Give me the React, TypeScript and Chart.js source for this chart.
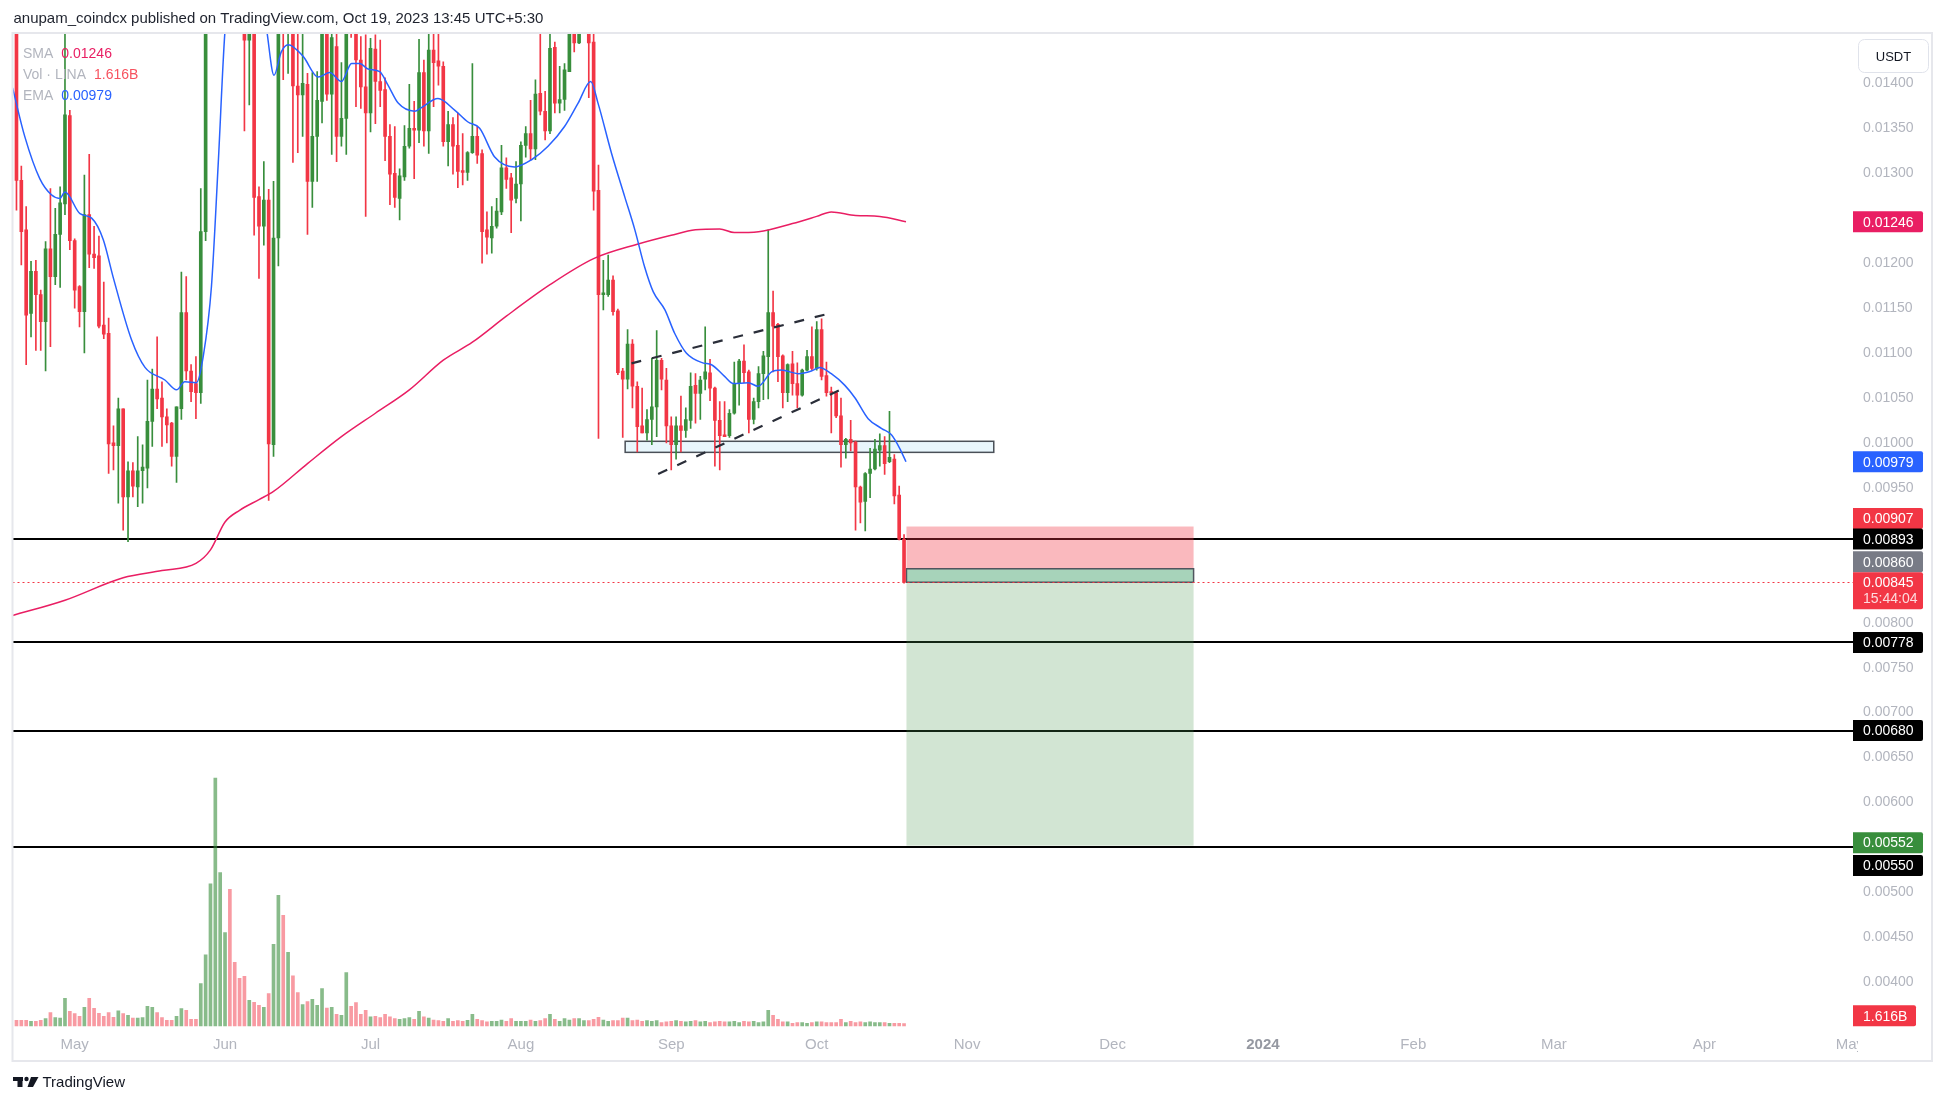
import React, { useEffect, useRef } from 'react';
import { Chart, registerables } from 'chart.js';
Chart.register(...registerables);

// ---------- data ----------
// daily candles [open, high, low, close], Apr 19 2023 -> Oct 19 2023
const ohlc: [number, number, number, number][] = [
  [0.01480, 0.01500, 0.01259, 0.01292], [0.01292, 0.01308, 0.01198, 0.01235], [0.01237, 0.01263, 0.01087, 0.01142],
  [0.01144, 0.01202, 0.01118, 0.01191], [0.01191, 0.01203, 0.01103, 0.01165], [0.01165, 0.01170, 0.01103, 0.01135],
  [0.01135, 0.01224, 0.01080, 0.01216], [0.01216, 0.01283, 0.01107, 0.01185], [0.01185, 0.01261, 0.01176, 0.01232],
  [0.01232, 0.01285, 0.01173, 0.01267], [0.01266, 0.01480, 0.01254, 0.01365], [0.01364, 0.01370, 0.01215, 0.01225],
  [0.01225, 0.01227, 0.01150, 0.01170], [0.01174, 0.01175, 0.01129, 0.01146], [0.01146, 0.01298, 0.01100, 0.01254],
  [0.01254, 0.01321, 0.01195, 0.01210], [0.01210, 0.01241, 0.01194, 0.01206], [0.01208, 0.01230, 0.01128, 0.01130],
  [0.01131, 0.01179, 0.01116, 0.01121], [0.01122, 0.01139, 0.00966, 0.00999], [0.01000, 0.01019, 0.00970, 0.00997],
  [0.00997, 0.01050, 0.00933, 0.01038], [0.01038, 0.01038, 0.00903, 0.00940], [0.00940, 0.00979, 0.00890, 0.00969],
  [0.00969, 0.00978, 0.00940, 0.00952], [0.00951, 0.01007, 0.00929, 0.00969], [0.00969, 0.00998, 0.00933, 0.00973],
  [0.00972, 0.01070, 0.00950, 0.01024], [0.01024, 0.01082, 0.00996, 0.01060], [0.01060, 0.01118, 0.01038, 0.01049],
  [0.01050, 0.01068, 0.00996, 0.01029], [0.01029, 0.01038, 0.01000, 0.01020], [0.01022, 0.01023, 0.00974, 0.00985],
  [0.00985, 0.01040, 0.00956, 0.01040], [0.01038, 0.01190, 0.01026, 0.01145], [0.01145, 0.01185, 0.01070, 0.01080],
  [0.01080, 0.01087, 0.01046, 0.01057], [0.01066, 0.01096, 0.01027, 0.01056], [0.01056, 0.01283, 0.01044, 0.01235],
  [0.01235, 0.01560, 0.01225, 0.01520], [0.01520, 0.01700, 0.01500, 0.01650], [0.01650, 0.01900, 0.01600, 0.01780],
  [0.01780, 0.01950, 0.01700, 0.01850], [0.01850, 0.01950, 0.01720, 0.01880], [0.01880, 0.01900, 0.01650, 0.01700],
  [0.01700, 0.01740, 0.01560, 0.01600], [0.01600, 0.01640, 0.01480, 0.01500], [0.01500, 0.01530, 0.01347, 0.01448],
  [0.01448, 0.01520, 0.01376, 0.01490], [0.01490, 0.01520, 0.01231, 0.01273], [0.01274, 0.01285, 0.01183, 0.01241],
  [0.01241, 0.01313, 0.01220, 0.01270], [0.01270, 0.01282, 0.00936, 0.00999], [0.00998, 0.01291, 0.00985, 0.01228],
  [0.01228, 0.01560, 0.01197, 0.01520], [0.01560, 0.01620, 0.01404, 0.01480], [0.01480, 0.01600, 0.01411, 0.01540],
  [0.01540, 0.01570, 0.01312, 0.01397], [0.01397, 0.01480, 0.01323, 0.01387], [0.01387, 0.01470, 0.01341, 0.01400],
  [0.01399, 0.01411, 0.01232, 0.01291], [0.01291, 0.01412, 0.01262, 0.01341], [0.01341, 0.01413, 0.01291, 0.01381],
  [0.01380, 0.01530, 0.01356, 0.01490], [0.01490, 0.01510, 0.01381, 0.01388], [0.01388, 0.01490, 0.01321, 0.01451],
  [0.01441, 0.01480, 0.01313, 0.01341], [0.01341, 0.01423, 0.01330, 0.01361], [0.01361, 0.01560, 0.01321, 0.01530],
  [0.01540, 0.01580, 0.01451, 0.01480], [0.01480, 0.01510, 0.01374, 0.01426], [0.01426, 0.01452, 0.01372, 0.01396],
  [0.01396, 0.01454, 0.01252, 0.01367], [0.01367, 0.01450, 0.01346, 0.01439], [0.01438, 0.01454, 0.01355, 0.01402],
  [0.01402, 0.01448, 0.01374, 0.01392], [0.01393, 0.01406, 0.01314, 0.01341], [0.01341, 0.01354, 0.01265, 0.01299],
  [0.01300, 0.01352, 0.01262, 0.01273], [0.01272, 0.01305, 0.01248, 0.01297], [0.01296, 0.01353, 0.01292, 0.01330],
  [0.01330, 0.01399, 0.01328, 0.01350], [0.01350, 0.01380, 0.01294, 0.01348], [0.01348, 0.01449, 0.01334, 0.01412],
  [0.01412, 0.01426, 0.01330, 0.01347], [0.01347, 0.01470, 0.01322, 0.01437], [0.01437, 0.01460, 0.01374, 0.01423],
  [0.01425, 0.01460, 0.01398, 0.01419], [0.01419, 0.01424, 0.01330, 0.01335], [0.01335, 0.01369, 0.01308, 0.01354],
  [0.01354, 0.01362, 0.01299, 0.01330], [0.01331, 0.01367, 0.01284, 0.01302], [0.01303, 0.01344, 0.01287, 0.01301],
  [0.01301, 0.01324, 0.01292, 0.01323], [0.01323, 0.01422, 0.01322, 0.01341], [0.01341, 0.01352, 0.01311, 0.01320],
  [0.01322, 0.01326, 0.01200, 0.01235], [0.01237, 0.01257, 0.01210, 0.01229], [0.01228, 0.01263, 0.01211, 0.01241],
  [0.01241, 0.01272, 0.01239, 0.01258], [0.01257, 0.01331, 0.01254, 0.01306], [0.01306, 0.01317, 0.01283, 0.01293],
  [0.01295, 0.01300, 0.01234, 0.01270], [0.01272, 0.01313, 0.01267, 0.01288], [0.01288, 0.01335, 0.01247, 0.01331],
  [0.01331, 0.01352, 0.01318, 0.01344], [0.01344, 0.01381, 0.01315, 0.01327], [0.01327, 0.01404, 0.01315, 0.01388],
  [0.01389, 0.01460, 0.01365, 0.01369], [0.01369, 0.01391, 0.01337, 0.01347], [0.01347, 0.01460, 0.01344, 0.01439],
  [0.01440, 0.01446, 0.01367, 0.01378], [0.01378, 0.01419, 0.01367, 0.01382], [0.01382, 0.01422, 0.01370, 0.01415],
  [0.01413, 0.01500, 0.01413, 0.01470], [0.01470, 0.01500, 0.01435, 0.01445], [0.01445, 0.01490, 0.01444, 0.01470],
  [0.01470, 0.01520, 0.01462, 0.01500], [0.01500, 0.01520, 0.01384, 0.01445], [0.01446, 0.01465, 0.01259, 0.01280],
  [0.01281, 0.01309, 0.01005, 0.01165], [0.01165, 0.01203, 0.01148, 0.01167], [0.01165, 0.01209, 0.01163, 0.01181],
  [0.01181, 0.01186, 0.01142, 0.01146], [0.01147, 0.01149, 0.01076, 0.01078], [0.01080, 0.01083, 0.01006, 0.01071],
  [0.01071, 0.01126, 0.01060, 0.01110], [0.01110, 0.01115, 0.01039, 0.01063], [0.01063, 0.01068, 0.00990, 0.01018],
  [0.01019, 0.01061, 0.01011, 0.01011], [0.01011, 0.01037, 0.01003, 0.01026], [0.01026, 0.01094, 0.00998, 0.01040],
  [0.01040, 0.01125, 0.01007, 0.01092], [0.01092, 0.01094, 0.01059, 0.01071], [0.01070, 0.01083, 0.01000, 0.01019],
  [0.01019, 0.01029, 0.00970, 0.00998], [0.00998, 0.01029, 0.00982, 0.01019], [0.01019, 0.01052, 0.00990, 0.01014],
  [0.01014, 0.01039, 0.01006, 0.01026], [0.01025, 0.01078, 0.01016, 0.01063], [0.01064, 0.01077, 0.01022, 0.01055],
  [0.01055, 0.01074, 0.01026, 0.01070], [0.01071, 0.01129, 0.01059, 0.01079], [0.01078, 0.01093, 0.01047, 0.01061],
  [0.01061, 0.01062, 0.00974, 0.01025], [0.01025, 0.01046, 0.00970, 0.01008], [0.01009, 0.01046, 0.01007, 0.01007],
  [0.01008, 0.01037, 0.01006, 0.01033], [0.01033, 0.01090, 0.01032, 0.01066], [0.01066, 0.01093, 0.01042, 0.01091],
  [0.01091, 0.01109, 0.01067, 0.01078], [0.01079, 0.01081, 0.01011, 0.01026], [0.01026, 0.01050, 0.01021, 0.01046],
  [0.01046, 0.01085, 0.01039, 0.01077], [0.01077, 0.01102, 0.01048, 0.01097], [0.01096, 0.01237, 0.01049, 0.01145],
  [0.01145, 0.01169, 0.01079, 0.01130], [0.01132, 0.01133, 0.01068, 0.01096], [0.01097, 0.01098, 0.01039, 0.01056],
  [0.01056, 0.01088, 0.01046, 0.01087], [0.01088, 0.01102, 0.01053, 0.01066], [0.01066, 0.01089, 0.01039, 0.01053],
  [0.01053, 0.01082, 0.01052, 0.01081], [0.01081, 0.01103, 0.01080, 0.01096], [0.01096, 0.01129, 0.01081, 0.01083],
  [0.01083, 0.01135, 0.01081, 0.01126], [0.01126, 0.01138, 0.01070, 0.01074], [0.01075, 0.01090, 0.01052, 0.01056],
  [0.01057, 0.01062, 0.01011, 0.01056], [0.01056, 0.01057, 0.01028, 0.01030], [0.01030, 0.01050, 0.00973, 0.00998],
  [0.00998, 0.01005, 0.00983, 0.01004], [0.01004, 0.01025, 0.00991, 0.01000], [0.01001, 0.01002, 0.00903, 0.00951],
  [0.00951, 0.00952, 0.00911, 0.00934], [0.00935, 0.00967, 0.00902, 0.00966], [0.00966, 0.00994, 0.00939, 0.00971],
  [0.00971, 0.01004, 0.00970, 0.00993], [0.00992, 0.01010, 0.00974, 0.00997], [0.00997, 0.01007, 0.00965, 0.00977],
  [0.00979, 0.01035, 0.00978, 0.00984], [0.00982, 0.00987, 0.00932, 0.00941], [0.00942, 0.00952, 0.00892, 0.00893],
  [0.00893, 0.00898, 0.00844, 0.00845],
];

// daily volume, billions
const volumes = [
  3.9, 3.9, 3.9, 3.2, 3.2, 3.9, 5.1, 9.2, 5.8, 5.5,
  19.1, 10.1, 8.5, 6.7, 12.9, 19.1, 12.2, 8.7, 6.7, 9.2,
  6.0, 10.4, 8.5, 7.4, 5.5, 5.5, 5.8, 13.6, 12.9, 9.2,
  5.8, 3.9, 3.9, 6.7, 12.0, 10.8, 4.6, 4.6, 29.2, 49.2,
  98.2, 171.1, 105.8, 64.4, 94.3, 43.9, 32.9, 34.3, 17.7, 16.3,
  14.3, 12.9, 22.3, 56.4, 90.2, 76.4, 50.8, 34.7, 23.0, 14.7,
  16.8, 18.4, 14.3, 25.8, 12.4, 12.9, 8.1, 7.4, 36.8, 13.6,
  16.1, 8.1, 10.8, 6.4, 6.7, 5.8, 8.1, 6.4, 5.1, 4.6,
  5.1, 5.8, 4.6, 10.1, 6.4, 5.5, 4.1, 3.7, 3.2, 5.1,
  3.2, 3.7, 3.2, 3.9, 8.1, 4.6, 3.7, 2.8, 3.2, 3.2,
  4.1, 3.2, 5.1, 3.2, 3.2, 3.2, 4.1, 3.2, 3.7, 5.1,
  8.1, 4.6, 3.2, 5.1, 4.1, 5.1, 5.1, 3.7, 3.7, 4.6,
  6.0, 4.1, 3.2, 3.7, 3.7, 5.5, 5.5, 3.7, 4.1, 3.2,
  3.7, 3.2, 3.7, 2.3, 2.8, 3.2, 3.7, 3.2, 2.8, 3.2,
  3.7, 2.8, 3.2, 2.3, 2.8, 3.2, 2.8, 2.8, 3.2, 2.3,
  3.2, 2.8, 3.2, 2.3, 2.8, 10.8, 7.4, 4.6, 2.8, 2.8,
  1.8, 2.3, 2.3, 1.8, 2.3, 2.8, 2.8, 2.3, 2.3, 2.3,
  4.6, 2.3, 3.2, 2.3, 2.8, 2.3, 2.8, 2.3, 2.3, 2.3,
  1.8, 1.8, 1.8, 1.616,
];

// EMA: [day index, value]
const emaPoints: [number, number][] = [
  [-0.8, 0.01395], [1.7, 0.01341], [4.8, 0.01294], [7.2, 0.01276], [8.9, 0.01272], [10.0, 0.01279],
  [13.1, 0.01255], [15.5, 0.01250], [17.9, 0.01226], [19.9, 0.01185], [23.7, 0.01115], [26.5, 0.01084],
  [30.6, 0.01070], [33.0, 0.01059], [34.7, 0.01068], [37.1, 0.01067], [38.5, 0.01096], [40.2, 0.01174],
  [41.6, 0.01311], [43.0, 0.01459], [45.0, 0.01540], [48.0, 0.01560], [50.5, 0.01500], [51.6, 0.01459],
  [53.1, 0.01409], [54.6, 0.01435], [56.0, 0.01443], [59.1, 0.01430], [62.2, 0.01407], [64.6, 0.01412],
  [67.0, 0.01402], [69.1, 0.01422], [70.8, 0.01422], [72.5, 0.01416], [74.9, 0.01413], [76.6, 0.01398],
  [78.7, 0.01378], [82.1, 0.01369], [83.5, 0.01373], [86.9, 0.01383], [90.4, 0.01370], [93.1, 0.01357],
  [95.5, 0.01350], [98.6, 0.01318], [102.7, 0.01307], [106.2, 0.01315], [109.6, 0.01330], [113.0, 0.01352],
  [115.8, 0.01378], [118.4, 0.01402], [119.9, 0.01378], [122.7, 0.01322], [125.4, 0.01274], [127.5, 0.01237],
  [129.5, 0.01196], [131.3, 0.01168], [133.7, 0.01148], [135.7, 0.01122], [138.1, 0.01100], [141.5, 0.01089],
  [143.3, 0.01087], [146.0, 0.01074], [147.8, 0.01066], [150.9, 0.01067], [152.9, 0.01063], [155.7, 0.01079],
  [157.7, 0.01081], [161.2, 0.01077], [163.9, 0.01080], [165.6, 0.01084], [168.0, 0.01077], [170.8, 0.01064],
  [172.9, 0.01050], [175.6, 0.01027], [178.4, 0.01016], [180.4, 0.01009], [182.1, 0.00994], [183.4, 0.00979],
];

// SMA: [day index, value]
const smaPoints: [number, number][] = [
  [-0.8, 0.00808], [10, 0.00825], [22, 0.00850], [30, 0.00858], [37, 0.00866], [40, 0.00881],
  [43, 0.00912], [46, 0.00925], [50, 0.00937], [53, 0.00946], [60, 0.00977], [67, 0.01007],
  [74, 0.01033], [81, 0.01059], [88, 0.01092], [94, 0.01112], [101, 0.01141], [110, 0.01176],
  [119, 0.01205], [128, 0.01221], [135, 0.01231], [140, 0.01237], [145, 0.01238], [148, 0.01234],
  [153, 0.01235], [160, 0.01244], [165, 0.01252], [168, 0.01257], [173, 0.01253], [178, 0.01252],
  [183.4, 0.01246],
];

const levels = [0.00893, 0.00778, 0.00680, 0.00550];
const yTicks = [0.014, 0.0135, 0.013, 0.012, 0.0115, 0.011, 0.0105, 0.010, 0.0095, 0.008, 0.0075, 0.007, 0.0065, 0.006, 0.005, 0.0045, 0.004];
const monthTicks = [12, 43, 73, 104, 135, 165, 196, 226, 257, 288, 317, 348, 378];
const monthLabels = ['May', 'Jun', 'Jul', 'Aug', 'Sep', 'Oct', 'Nov', 'Dec', '2024', 'Feb', 'Mar', 'Apr', 'May'];

// drawings (data units: day index, price)
const supportZone = [125.5, 201.5, 0.009895, 0.010018];
const channelUpper: [number, number][] = [[126.8, 0.010885], [167.7, 0.011441]];
const channelLower: [number, number][] = [[132.3, 0.009654], [171.3, 0.010626]];
const positionSpan = [183.5, 242.7];
const positionPrices = [0.00907, 0.00860, 0.00552, 0.00845]; // stop, entry, target, current

// right-axis price labels: value, text, background, nudge
const priceLabels: [number, string, string, number][] = [
  [0.01246, '0.01246', '#e91e63', 0],
  [0.00979, '0.00979', '#2962ff', 0],
  [0.00907, '0.00907', '#f23645', -8],
  [0.00893, '0.00893', '#000000', 0],
  [0.00860, '0.00860', '#787b86', -7],
  [0.00778, '0.00778', '#000000', 0],
  [0.00680, '0.00680', '#000000', 0],
  [0.00552, '0.00552', '#388e3c', -3],
  [0.00550, '0.00550', '#000000', 18],
];

const X_MIN = -0.82;
const X_MAX = 378.66;
const Y_MIN = 0.003469;
const Y_MAX = 0.014560;
const V_MIN = -2.76;
const V_MAX = 685.3;

const GREEN = '#388e3c';
const RED = '#f23645';
const FONT = '"Liberation Sans", Arial, sans-serif';

const W = 1946;
const H = 1105;

function roundRectPath(ctx: CanvasRenderingContext2D, x: number, y: number, w: number, h: number, r: number) {
  ctx.beginPath();
  ctx.moveTo(x, y);
  ctx.lineTo(x + w - r, y);
  ctx.quadraticCurveTo(x + w, y, x + w, y + r);
  ctx.lineTo(x + w, y + h - r);
  ctx.quadraticCurveTo(x + w, y + h, x + w - r, y + h);
  ctx.lineTo(x, y + h);
  ctx.closePath();
}

const tvPlugin = {
  id: 'tvDrawings',
  beforeDatasetsDraw(chart: any) {
    const { ctx, chartArea: a, scales } = chart;
    const x = scales.x, y = scales.y;
    ctx.save();
    ctx.beginPath();
    ctx.rect(a.left, a.top, a.right - a.left, a.bottom - a.top);
    ctx.clip();
    // horizontal levels
    ctx.strokeStyle = '#000000';
    ctx.lineWidth = 2;
    levels.forEach((v) => {
      const py = Math.round(y.getPixelForValue(v));
      ctx.beginPath();
      ctx.moveTo(a.left, py);
      ctx.lineTo(a.right, py);
      ctx.stroke();
    });
    // support zone
    const sx0 = x.getPixelForValue(supportZone[0]);
    const sx1 = x.getPixelForValue(supportZone[1]);
    const sy0 = y.getPixelForValue(supportZone[3]);
    const sy1 = y.getPixelForValue(supportZone[2]);
    ctx.fillStyle = 'rgba(214,238,250,0.55)';
    ctx.fillRect(sx0, sy0, sx1 - sx0, sy1 - sy0);
    ctx.strokeStyle = '#4a5058';
    ctx.lineWidth = 1.5;
    ctx.strokeRect(sx0, sy0, sx1 - sx0, sy1 - sy0);
    // position tool
    const px0 = x.getPixelForValue(positionSpan[0]);
    const px1 = x.getPixelForValue(positionSpan[1]);
    const yStop = y.getPixelForValue(positionPrices[0]);
    const yEntry = y.getPixelForValue(positionPrices[1]);
    const yTarget = y.getPixelForValue(positionPrices[2]);
    const yCur = y.getPixelForValue(positionPrices[3]);
    ctx.fillStyle = 'rgba(242,54,69,0.35)';
    ctx.fillRect(px0, yStop, px1 - px0, yEntry - yStop);
    ctx.fillStyle = 'rgba(76,153,80,0.25)';
    ctx.fillRect(px0, yEntry, px1 - px0, yTarget - yEntry);
    ctx.fillStyle = '#a7d3ba';
    ctx.fillRect(px0, yEntry, px1 - px0, yCur - yEntry);
    ctx.strokeStyle = '#50555e';
    ctx.lineWidth = 1.5;
    ctx.strokeRect(px0, yEntry, px1 - px0, yCur - yEntry);
    ctx.restore();
  },
  afterDatasetsDraw(chart: any) {
    const { ctx, chartArea: a, scales } = chart;
    const x = scales.x, y = scales.y;
    ctx.save();
    ctx.beginPath();
    ctx.rect(a.left, a.top, a.right - a.left, a.bottom - a.top);
    ctx.clip();
    // channel dashed lines
    ctx.strokeStyle = '#2a2e39';
    ctx.lineWidth = 2.2;
    ctx.setLineDash([10, 11]);
    [channelUpper, channelLower].forEach((seg) => {
      ctx.beginPath();
      ctx.moveTo(x.getPixelForValue(seg[0][0]), y.getPixelForValue(seg[0][1]));
      ctx.lineTo(x.getPixelForValue(seg[1][0]), y.getPixelForValue(seg[1][1]));
      ctx.stroke();
    });
    // current price dotted line
    ctx.setLineDash([2, 3]);
    ctx.strokeStyle = RED;
    ctx.lineWidth = 1;
    const cy = Math.round(y.getPixelForValue(positionPrices[3])) + 0.5;
    ctx.beginPath();
    ctx.moveTo(a.left, cy);
    ctx.lineTo(a.right, cy);
    ctx.stroke();
    ctx.restore();
  },
  afterDraw(chart: any) {
    const { ctx, chartArea: a, scales } = chart;
    const x = scales.x, y = scales.y, yv = scales.yv;
    ctx.save();
    // frame
    ctx.strokeStyle = '#e6e7ec';
    ctx.lineWidth = 2;
    ctx.strokeRect(12.5, 33, 1932 - 12.5, 1061 - 33);

    // title
    ctx.fillStyle = '#1e222d';
    ctx.font = `15px ${FONT}`;
    ctx.textBaseline = 'middle';
    ctx.textAlign = 'left';
    ctx.fillText('anupam_coindcx published on TradingView.com, Oct 19, 2023 13:45 UTC+5:30', 13.5, 19);

    // legend
    ctx.font = `14px ${FONT}`;
    const legend: [string, string, string, number][] = [
      ['SMA', '0.01246', '#e91e63', 54],
      ['Vol · LINA', '1.616B', '#f7525f', 75],
      ['EMA', '0.00979', '#2962ff', 96],
    ];
    legend.forEach(([lab, val, col, ly]) => {
      ctx.fillStyle = '#b2b5be';
      ctx.fillText(lab, 23, ly);
      const w = ctx.measureText(lab).width;
      ctx.fillStyle = col;
      ctx.fillText(val, 23 + w + 8, ly);
    });

    // USDT button
    ctx.strokeStyle = '#e0e3eb';
    ctx.lineWidth = 1;
    const bx = 1858.5, by = 39.5, bw = 70, bh = 33, br = 6;
    ctx.beginPath();
    ctx.moveTo(bx + br, by);
    ctx.arcTo(bx + bw, by, bx + bw, by + bh, br);
    ctx.arcTo(bx + bw, by + bh, bx, by + bh, br);
    ctx.arcTo(bx, by + bh, bx, by, br);
    ctx.arcTo(bx, by, bx + bw, by, br);
    ctx.closePath();
    ctx.fillStyle = '#ffffff';
    ctx.fill();
    ctx.stroke();
    ctx.fillStyle = '#131722';
    ctx.font = `13px ${FONT}`;
    ctx.textAlign = 'center';
    ctx.fillText('USDT', bx + bw / 2, by + bh / 2 + 1);

    // right-axis price labels
    ctx.textAlign = 'left';
    ctx.font = `14px ${FONT}`;
    const lx = a.right;
    priceLabels.forEach(([v, txt, bg, nudge]) => {
      const cyy = y.getPixelForValue(v) + nudge;
      ctx.fillStyle = bg;
      roundRectPath(ctx, lx, cyy - 10.5, 70, 21, 2);
      ctx.fill();
      ctx.fillStyle = '#ffffff';
      ctx.fillText(txt, lx + 10, cyy + 1);
    });
    // current price with countdown
    const cp = y.getPixelForValue(positionPrices[3]);
    ctx.fillStyle = RED;
    roundRectPath(ctx, lx, cp - 10, 70, 37, 2);
    ctx.fill();
    ctx.fillStyle = '#ffffff';
    ctx.fillText('0.00845', lx + 10, cp + 1);
    ctx.fillStyle = 'rgba(255,255,255,0.82)';
    ctx.fillText('15:44:04', lx + 10, cp + 17);
    // volume label
    const vp = yv.getPixelForValue(volumes[volumes.length - 1]) - 8;
    ctx.fillStyle = RED;
    roundRectPath(ctx, lx, vp - 10.5, 63, 21, 2);
    ctx.fill();
    ctx.fillStyle = '#ffffff';
    ctx.fillText('1.616B', lx + 10, vp + 1);

    // time axis labels
    ctx.save();
    ctx.beginPath();
    ctx.rect(a.left, a.bottom, a.right + 5 - a.left, 30);
    ctx.clip();
    ctx.textAlign = 'center';
    monthTicks.forEach((t, k) => {
      const tx = x.getPixelForValue(t);
      const isYear = monthLabels[k] === '2024';
      ctx.font = `${isYear ? 'bold ' : ''}15px ${FONT}`;
      ctx.fillStyle = isYear ? '#9598a1' : '#b2b5be';
      ctx.fillText(monthLabels[k], tx, 1045);
    });
    ctx.restore();

    // TradingView logo
    ctx.fillStyle = '#131722';
    ctx.fillRect(13, 1077, 10, 4);
    ctx.fillRect(17.5, 1077, 5, 10);
    ctx.beginPath();
    ctx.arc(26.5, 1079, 2.2, 0, Math.PI * 2);
    ctx.fill();
    ctx.beginPath();
    ctx.moveTo(31, 1077);
    ctx.lineTo(38.5, 1077);
    ctx.lineTo(33, 1087);
    ctx.lineTo(27.5, 1087);
    ctx.closePath();
    ctx.fill();
    ctx.font = `15px ${FONT}`;
    ctx.textAlign = 'left';
    ctx.fillText('TradingView', 42.5, 1083);
    ctx.restore();
  },
};

export default function App() {
  const ref = useRef<HTMLCanvasElement>(null);
  useEffect(() => {
    const canvas = ref.current;
    if (!canvas) return;
    const up = ohlc.map(([o, , , c]) => c >= o);
    const candleColors = up.map((u) => (u ? GREEN : RED));
    const volColors = up.map((u) => (u ? 'rgba(56,142,60,0.6)' : 'rgba(242,54,69,0.5)'));
    const bodies = ohlc.map(([o, , , c], i) => ({ x: i, y: [Math.min(o, c), Math.max(o, c)] }));
    const wicks = ohlc.map(([, h, l], i) => ({ x: i, y: [l, h] }));
    const vols = volumes.map((v, i) => ({ x: i, y: v }));

    const chart = new Chart(canvas, {
      type: 'bar',
      data: {
        datasets: [
          {
            type: 'line',
            label: 'EMA',
            data: emaPoints.map(([i, v]) => ({ x: i, y: v })),
            borderColor: '#2962ff',
            borderWidth: 1.5,
            pointRadius: 0,
            cubicInterpolationMode: 'monotone',
            yAxisID: 'y',
            order: 1,
          } as any,
          {
            type: 'line',
            label: 'SMA',
            data: smaPoints.map(([i, v]) => ({ x: i, y: v })),
            borderColor: '#e91e63',
            borderWidth: 1.5,
            pointRadius: 0,
            cubicInterpolationMode: 'monotone',
            yAxisID: 'y',
            order: 2,
          } as any,
          {
            label: 'bodies',
            data: bodies as any,
            backgroundColor: candleColors,
            barThickness: 3,
            minBarLength: 1,
            grouped: false,
            yAxisID: 'y',
            order: 3,
          } as any,
          {
            label: 'wicks',
            data: wicks as any,
            backgroundColor: candleColors,
            barThickness: 1,
            grouped: false,
            yAxisID: 'y',
            order: 4,
          } as any,
          {
            label: 'volume',
            data: vols as any,
            backgroundColor: volColors,
            barThickness: 3,
            grouped: false,
            yAxisID: 'yv',
            order: 10,
          } as any,
        ],
      },
      options: {
        animation: false,
        responsive: false,
        devicePixelRatio: 1,
        events: [],
        layout: { padding: { top: 33, left: 12.5, right: 14, bottom: 44 } },
        plugins: { legend: { display: false }, tooltip: { enabled: false } },
        scales: {
          x: {
            type: 'linear',
            min: X_MIN,
            max: X_MAX,
            offset: false,
            grid: { display: false, drawTicks: false },
            border: { display: false },
            ticks: { display: false },
            afterFit: (s: any) => { s.height = 31; },
          },
          y: {
            type: 'linear',
            position: 'right',
            min: Y_MIN,
            max: Y_MAX,
            grid: { display: false, drawTicks: false },
            border: { display: false },
            afterBuildTicks: (s: any) => { s.ticks = yTicks.map((v) => ({ value: v })); },
            afterFit: (s: any) => { s.width = 79; },
            ticks: {
              autoSkip: false,
              padding: 10,
              color: '#b2b5be',
              font: { family: FONT, size: 14 },
              callback: (v: any) => Number(v).toFixed(5),
            },
          },
          yv: {
            type: 'linear',
            display: false,
            min: V_MIN,
            max: V_MAX,
          },
        } as any,
      },
      plugins: [tvPlugin],
    });
    return () => chart.destroy();
  }, []);

  return (
    <div style={{ position: 'fixed', left: 0, top: 0, width: W, height: H, background: '#ffffff' }}>
      <canvas ref={ref} width={W} height={H} style={{ width: W, height: H, display: 'block' }} />
    </div>
  );
}
